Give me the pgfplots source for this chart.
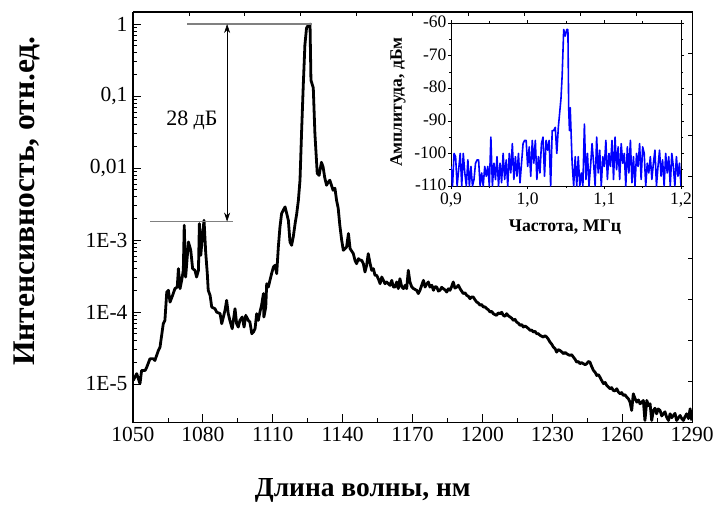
\documentclass[border=0pt]{standalone}
\usepackage{fontspec}
\setmainfont{Liberation Serif}
\usepackage{pgfplots}
\pgfplotsset{compat=1.18}
\usetikzlibrary{arrows.meta}
\begin{document}
\begin{tikzpicture}
\begin{axis}[
  at={(0pt,0pt)}, anchor=south west,
  scale only axis, width=559pt, height=410pt,
  xmin=1050, xmax=1290,
  ymode=log, ymin=2.96e-6, ymax=1.47,
  xtick={1050,1080,1110,1140,1170,1200,1230,1260,1290},
  xticklabels={1050,1080,1110,1140,1170,1200,1230,1260,1290},
  minor x tick num=1,
  ytick={1e-5,1e-4,1e-3,1e-2,1e-1,1},
  yticklabels={1E-5,1E-4,1E-3,{0,01},{0,1},1},
  xtick pos=left, ytick pos=left,
  tick align=inside,
  major tick length=8pt, minor tick length=4pt,
  every tick/.style={black, line width=0.8pt},
  axis line style={line width=1pt},
  ticklabel style={font=\fontsize{21.5}{24}\selectfont},
  xticklabel style={yshift=-2pt},
  yticklabel style={xshift=-2pt},
  xlabel={\bfseries Длина волны, нм},
  ylabel={\bfseries Интенсивность, отн.ед.},
  xlabel style={font=\fontsize{27.5}{30}\selectfont, at={(axis description cs:0.411,-0.166)}, anchor=center},
  ylabel style={font=\fontsize{31.5}{34}\selectfont, at={(axis description cs:-0.19,0.539)}, anchor=center, rotate=0},
  clip=true,
]
\addplot[black, line width=2.8pt, line join=round] coordinates {
(1050.1,1.12e-5) (1051.6,1.39e-5) (1053.0,1.01e-5) (1053.7,1.54e-5) (1055.2,1.54e-5)
(1055.9,1.71e-5) (1057.3,2.24e-5) (1058.7,2.24e-5) (1059.4,2.12e-5) (1060.9,2.92e-5)
(1061.6,3.25e-5) (1063.0,6.87e-5) (1063.7,7.64e-5) (1064.5,1.89e-4) (1065.2,2.00e-4)
(1065.9,1.37e-4) (1067.0,1.70e-4) (1068.0,2.11e-4) (1069.0,2.22e-4) (1069.5,4.00e-4)
(1070.2,2.11e-4) (1070.9,2.75e-4) (1071.6,3.79e-4) (1072.0,1.60e-3) (1072.6,3.06e-4)
(1073.8,9.39e-4) (1074.8,7.19e-4) (1075.6,4.00e-4) (1076.6,3.79e-4) (1077.3,3.06e-4)
(1078.1,3.79e-4) (1078.5,1.69e-3) (1079.1,6.12e-4) (1079.9,1.23e-3) (1080.5,1.88e-3)
(1081.2,6.81e-4) (1081.9,3.41e-4) (1082.3,2.00e-4) (1083.1,1.70e-4) (1083.8,1.17e-4)
(1085.2,1.11e-4) (1085.9,9.98e-5) (1087.4,9.46e-5) (1088.1,6.87e-5) (1088.8,8.51e-5)
(1089.5,1.05e-4) (1090.2,1.45e-4) (1090.9,9.46e-5) (1091.6,7.64e-5) (1092.6,5.85e-5)
(1093.8,1.11e-4) (1094.5,6.87e-5) (1095.2,6.17e-5) (1095.9,7.64e-5) (1096.9,8.51e-5)
(1097.7,6.17e-5) (1098.4,8.97e-5) (1099.5,7.64e-5) (1100.2,7.25e-5) (1101.0,4.99e-5)
(1101.7,5.26e-5) (1102.4,5.85e-5) (1103.1,9.46e-5) (1103.8,7.64e-5) (1104.5,1.00e-4)
(1105.2,1.24e-4) (1106.0,1.80e-4) (1106.2,8.51e-5) (1107.0,1.17e-4) (1107.4,2.47e-4)
(1108.1,2.22e-4) (1108.8,2.75e-4) (1109.5,3.41e-4) (1110.3,4.22e-4) (1111.0,4.45e-4)
(1111.7,3.41e-4) (1112.4,8.00e-4) (1113.1,1.52e-3) (1113.8,2.33e-3) (1114.5,2.59e-3)
(1115.3,2.88e-3) (1116.0,2.33e-3) (1116.7,1.88e-3) (1117.4,9.39e-4) (1118.1,8.44e-4)
(1118.8,1.10e-3) (1119.6,1.69e-3) (1120.3,2.33e-3) (1121.0,3.56e-3) (1121.7,6.77e-3)
(1122.4,3.3e-2) (1123.1,1.4e-1) (1123.8,5.1e-1) (1124.5,8.8e-1) (1125.3,9.7e-1)
(1125.7,9.1e-1) (1126.0,1.0) (1126.4,1.66e-1) (1127.4,1.3e-1) (1128.1,3.0e-2)
(1129.1,8.4e-3) (1129.9,7.9e-3) (1130.9,1.2e-2) (1131.6,1.04e-2) (1132.3,7.4e-3)
(1133.1,5.77e-3) (1133.8,6.35e-3) (1134.5,6.77e-3) (1135.9,4.91e-3) (1136.7,5.24e-3)
(1137.4,3.56e-3) (1138.1,2.76e-3) (1138.8,1.60e-3) (1139.6,9.9e-4) (1140.3,7.19e-4)
(1141.7,8.00e-4) (1142.5,1.23e-3) (1143.2,7.59e-4) (1144.6,6.46e-4) (1145.3,5.22e-4)
(1146.0,4.69e-4) (1146.8,5.51e-4) (1147.5,5.22e-4) (1148.2,5.22e-4) (1148.9,4.69e-4)
(1149.6,3.59e-4) (1150.3,4.45e-4) (1151.0,6.46e-4) (1151.8,4.69e-4) (1152.5,3.79e-4)
(1153.2,4.00e-4) (1153.9,3.23e-4) (1154.6,3.23e-4) (1155.3,2.90e-4) (1156.1,2.47e-4)
(1156.8,3.06e-4) (1157.5,2.75e-4) (1158.2,2.47e-4) (1158.9,2.61e-4) (1160.3,2.34e-4)
(1161.1,2.75e-4) (1161.8,2.22e-4) (1162.5,2.22e-4) (1163.2,2.61e-4) (1163.9,2.11e-4)
(1164.6,2.90e-4) (1165.4,2.22e-4) (1166.1,2.11e-4) (1166.8,2.34e-4) (1167.5,2.11e-4)
(1168.2,3.79e-4) (1168.9,2.61e-4) (1169.7,2.22e-4) (1170.4,2.11e-4) (1171.8,2.00e-4)
(1172.5,1.80e-4) (1173.2,2.00e-4) (1174.7,2.75e-4) (1175.4,2.22e-4) (1176.1,2.45e-4) (1176.8,2.61e-4)
(1177.5,2.22e-4) (1178.3,2.35e-4) (1179.0,2.00e-4) (1179.7,2.25e-4) (1180.4,2.22e-4) (1181.1,1.95e-4) (1181.8,2.00e-4) (1182.5,2.20e-4) (1183.2,2.11e-4)
(1184.0,2.02e-4) (1184.7,1.89e-4) (1185.4,2.10e-4) (1186.1,2.00e-4) (1186.8,2.25e-4) (1187.5,2.61e-4) (1188.2,2.15e-4) (1189.0,2.22e-4) (1189.7,2.35e-4) (1190.4,2.11e-4)
(1191.1,1.95e-4) (1191.8,1.80e-4) (1192.5,1.85e-4) (1193.3,1.70e-4) (1194.0,1.65e-4) (1194.7,1.53e-4) (1195.4,1.62e-4) (1196.1,1.61e-4) (1196.8,1.48e-4) (1197.6,1.37e-4)
(1198.3,1.33e-4) (1199.0,1.24e-4) (1199.7,1.27e-4) (1200.4,1.17e-4) (1201.1,1.18e-4) (1201.9,1.11e-4) (1202.6,1.07e-4) (1203.3,9.98e-5) (1204.0,1.02e-4) (1204.7,9.46e-5)
(1205.4,9.2e-5) (1206.1,8.97e-5) (1206.8,9.7e-5) (1207.6,9.46e-5) (1208.3,9.9e-5) (1209.0,8.97e-5) (1209.7,8.7e-5) (1210.4,9.46e-5) (1211.1,8.9e-5) (1211.9,8.51e-5)
(1212.6,8.2e-5) (1213.3,7.64e-5) (1214.0,7.9e-5) (1214.7,7.25e-5) (1215.4,7.0e-5) (1216.2,6.51e-5) (1216.9,6.7e-5) (1217.6,6.17e-5) (1218.3,6.4e-5) (1219.0,6.17e-5)
(1219.7,5.9e-5) (1220.5,5.55e-5) (1221.2,5.6e-5) (1221.9,5.26e-5) (1222.6,5.4e-5) (1223.3,4.99e-5) (1224.0,5.0e-5) (1224.8,4.73e-5) (1225.5,4.6e-5) (1226.2,4.48e-5)
(1226.9,4.7e-5) (1227.6,4.48e-5) (1228.3,4.2e-5) (1229.0,3.82e-5) (1229.7,3.6e-5) (1230.5,3.25e-5) (1231.2,3.1e-5) (1231.9,2.77e-5) (1232.6,3.0e-5) (1233.3,2.92e-5)
(1234.0,2.8e-5) (1234.8,2.63e-5) (1235.5,2.75e-5) (1236.2,2.63e-5) (1236.9,2.55e-5) (1237.6,2.49e-5) (1238.3,2.55e-5) (1239.1,2.36e-5) (1239.8,2.2e-5) (1240.5,2.01e-5)
(1241.2,2.05e-5) (1241.9,1.91e-5) (1242.6,1.98e-5) (1243.4,1.91e-5) (1244.1,1.85e-5) (1244.8,1.91e-5) (1245.5,2.05e-5) (1246.2,2.01e-5) (1246.9,1.75e-5) (1247.7,1.54e-5)
(1248.4,1.45e-5) (1249.1,1.31e-5) (1249.8,1.35e-5) (1250.5,1.24e-5) (1251.2,1.12e-5) (1252.0,1.01e-5) (1252.7,1.05e-5) (1253.4,9.53e-6) (1254.1,9.1e-6) (1254.8,8.57e-6)
(1255.5,8.9e-6) (1256.2,8.12e-6) (1256.9,8.0e-6) (1257.7,8.57e-6) (1258.4,7.7e-6) (1259.1,7.30e-6) (1259.8,7.6e-6) (1260.5,6.92e-6) (1261.2,7.1e-6) (1262.0,6.56e-6)
(1262.7,6.2e-6) (1263.4,5.59e-6) (1264.1,4.28e-6) (1264.8,7.30e-6) (1265.5,6.3e-6) (1266.3,5.59e-6) (1267.0,6.0e-6) (1267.7,5.30e-6)
(1268.4,5.6e-6) (1269.1,5.90e-6) (1269.8,3.11e-6) (1270.6,5.90e-6) (1271.3,5.0e-6) (1272.0,5.30e-6) (1272.7,3.11e-6)
(1273.4,4.28e-6) (1274.1,4.6e-6) (1274.8,3.85e-6) (1275.5,4.5e-6) (1276.3,4.28e-6) (1277.0,3.6e-6) (1277.7,3.85e-6) (1278.4,4.1e-6) (1279.1,3.46e-6)
(1279.9,3.11e-6) (1280.6,3.85e-6) (1281.3,3.4e-6) (1282.0,3.65e-6) (1282.7,3.9e-6) (1283.4,3.11e-6) (1284.2,3.4e-6) (1284.9,3.65e-6)
(1285.6,3.3e-6) (1286.3,3.11e-6) (1287.0,3.5e-6) (1287.7,3.85e-6) (1288.5,3.3e-6) (1289.2,4.51e-6) (1289.9,3.11e-6)
};
\draw[gray, line width=1.2pt] (axis cs:1073.2,1) -- (axis cs:1126.9,1);
\draw[gray, line width=1.2pt] (axis cs:1057.3,1.8e-3) -- (axis cs:1092.9,1.8e-3);
\draw[line width=0.6pt, {Stealth[length=9pt,width=6pt]}-{Stealth[length=9pt,width=6pt]}] (axis cs:1090.4,1) -- (axis cs:1090.4,1.8e-3);
\node[font=\fontsize{22}{24}\selectfont] at (axis cs:1075.3,0.046) {28 дБ};
\end{axis}
% top/right linked axes (Origin-style equal divisions)
\begin{axis}[
  at={(0pt,0pt)}, anchor=south west,
  scale only axis, width=559pt, height=410pt,
  xmin=0, xmax=10, ymin=0, ymax=10,
  xtick={1,...,9}, ytick={1,...,9},
  xticklabels={}, yticklabels={},
  xtick pos=right, ytick pos=right,
  tick align=inside, major tick length=4pt,
  every tick/.style={black, line width=0.8pt},
  axis line style={line width=1pt},
]
\end{axis}
% inset
\begin{axis}[
  at={(318pt,236pt)}, anchor=south west,
  scale only axis, width=230pt, height=163pt,
  xmin=0.9, xmax=1.2, ymin=-110, ymax=-60,
  xtick={0.9,1.0,1.1,1.2}, xticklabels={{0,9},{1,0},{1,1},{1,2}},
  ytick={-110,-100,-90,-80,-70,-60}, yticklabels={-110,-100,-90,-80,-70,-60},
  minor x tick num=1, minor y tick num=1,
  tick pos=both, xticklabel pos=left, yticklabel pos=left,
  tick align=outside, major tick length=3pt, minor tick length=2pt,
  every tick/.style={black, line width=0.6pt},
  axis line style={line width=0.8pt},
  ticklabel style={font=\fontsize{17.5}{19}\selectfont},
  xticklabel style={yshift=0pt},
  yticklabel style={xshift=2pt, yshift=1pt},
  xlabel={\bfseries Частота, МГц},
  ylabel={\bfseries Амплитуда, дБм},
  xlabel style={font=\fontsize{17.8}{19}\selectfont, at={(axis description cs:0.496,-0.25)}, anchor=center},
  ylabel style={font=\fontsize{17.5}{19}\selectfont, at={(axis description cs:-0.23,0.515)}, anchor=center},
  clip=true,
]
\addplot[blue, line width=1.6pt, line join=round] coordinates {
(0.900,-104) (0.902,-110) (0.904,-100) (0.906,-101) (0.908,-110) (0.910,-105)
(0.912,-100) (0.914,-110) (0.916,-100) (0.918,-106) (0.920,-110) (0.922,-102)
(0.924,-110) (0.926,-104) (0.928,-110) (0.930,-108) (0.932,-103) (0.934,-102)
(0.936,-102) (0.938,-110) (0.940,-106) (0.942,-110) (0.944,-104) (0.946,-107)
(0.948,-104) (0.950,-110) (0.952,-95) (0.954,-110) (0.956,-103) (0.958,-108)
(0.960,-101) (0.962,-110) (0.964,-103) (0.966,-109) (0.968,-100) (0.970,-108)
(0.972,-102) (0.974,-110) (0.976,-100) (0.978,-106) (0.980,-97) (0.982,-108)
(0.984,-101) (0.986,-107) (0.988,-100) (0.990,-109) (0.992,-103) (0.994,-97)
(0.996,-96) (0.998,-96) (1.000,-104) (1.002,-98) (1.004,-107) (1.006,-96)
(1.008,-103) (1.010,-96) (1.012,-108) (1.014,-101) (1.016,-106) (1.018,-97)
(1.020,-95) (1.022,-107) (1.024,-96) (1.026,-99) (1.028,-96) (1.030,-110)
(1.032,-93) (1.034,-93) (1.036,-92) (1.038,-100) (1.040,-92) (1.0435,-83)
(1.045,-76) (1.047,-62) (1.049,-64) (1.051,-62) (1.0525,-62) (1.0535,-86)
(1.0545,-93) (1.0555,-86) (1.058,-103) (1.060,-110) (1.062,-101) (1.064,-110)
(1.066,-101) (1.068,-110) (1.070,-106) (1.072,-110) (1.074,-91) (1.076,-108)
(1.078,-100) (1.080,-110) (1.082,-104) (1.084,-97) (1.086,-103) (1.088,-110)
(1.090,-95) (1.092,-106) (1.094,-99) (1.096,-110) (1.098,-101) (1.100,-104)
(1.102,-96) (1.104,-108) (1.106,-100) (1.108,-104) (1.110,-96) (1.112,-108)
(1.114,-95) (1.116,-105) (1.118,-98) (1.120,-108) (1.122,-97) (1.124,-103)
(1.126,-100) (1.128,-110) (1.130,-98) (1.132,-106) (1.134,-96) (1.136,-109)
(1.138,-101) (1.140,-110) (1.142,-100) (1.144,-104) (1.146,-97) (1.148,-108)
(1.150,-98) (1.152,-100) (1.154,-110) (1.156,-103) (1.158,-106) (1.160,-101)
(1.162,-108) (1.164,-103) (1.166,-99) (1.168,-110) (1.170,-104) (1.172,-99)
(1.174,-107) (1.176,-102) (1.178,-110) (1.180,-100) (1.182,-106) (1.184,-101)
(1.186,-110) (1.188,-100) (1.190,-104) (1.192,-110) (1.194,-101) (1.196,-107)
(1.198,-103) (1.200,-110)
};
\end{axis}
\pgfresetboundingbox
\path (-133pt,-85pt) rectangle (584pt,422pt);
\end{tikzpicture}
\end{document}
